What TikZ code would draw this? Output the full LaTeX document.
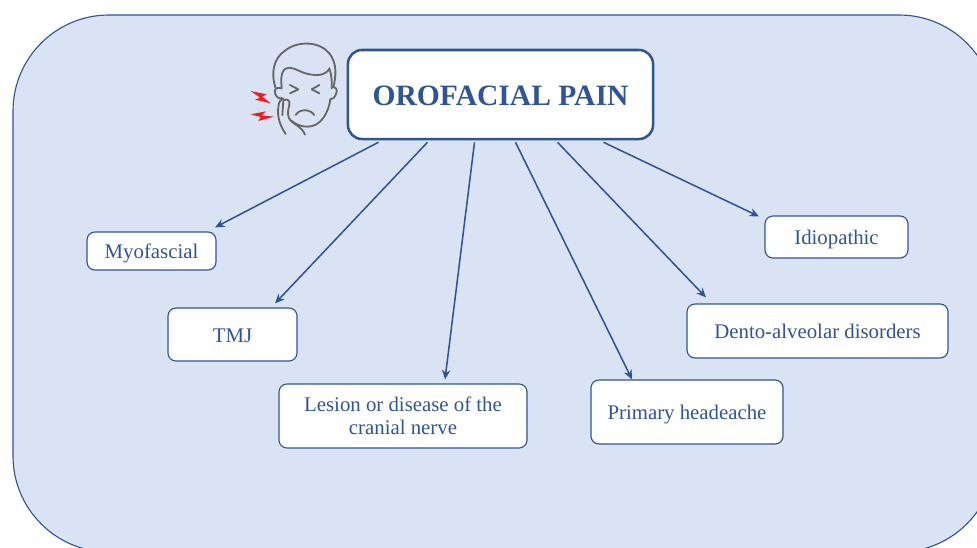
\documentclass[tikz,border=0pt]{standalone}
\usepackage{fontspec}
\setmainfont{Liberation Serif}
\usetikzlibrary{arrows.meta,calc}
\definecolor{opblue}{HTML}{2F5597}
\definecolor{oppale}{HTML}{DAE3F3}
\definecolor{opgray}{HTML}{666666}
\definecolor{opred}{HTML}{EE1C25}
\tikzset{
  op panel/.style={draw=opblue, line width=0.8pt, rounded corners=2.4cm, fill=oppale},
  op main/.style={draw=opblue, line width=1.8pt, rounded corners=3.5mm, fill=white,
    minimum width=76.25mm, minimum height=22.25mm, text=opblue, text height=15.5pt, text depth=0pt,
    font=\fontsize{21}{25}\selectfont\bfseries},
  op node/.style={draw=opblue, line width=0.8pt, rounded corners=2mm, fill=white,
    align=center, text=opblue, inner sep=0pt, font=\fontsize{14.8}{16.6}\selectfont},
  op single/.style={op node, text height=10.7pt, text depth=0pt},
  op arrow/.style={-{Stealth[length=2.4mm,width=2.1mm]}, line width=1.1pt, draw=opblue},
  op face/.style={draw=opgray, line width=1.3pt, line cap=round, line join=round},
  op bolt/.style={fill=opred, draw=none}
}
\begin{document}
\begin{tikzpicture}[x=0.025cm, y=-0.025cm]
  \useasboundingbox (0,0) rectangle (977,547);
  \begin{scope}
    \clip (0,0) rectangle (977,547);
    \draw[op panel] (13,15) rectangle (995,552);
  \end{scope}
  % boxes
  \node[op main] (main) at (500.5,94.5) {OROFACIAL PAIN};
  \node[op single, minimum width=32.25mm, minimum height=9.5mm] (myofascial) at (151.5,251) {Myofascial};
  \node[op single, minimum width=32.25mm, minimum height=13.25mm] (tmj) at (232.5,334.5) {TMJ};
  \node[op node, minimum width=62mm, minimum height=16mm] (lesion) at (403,416) {Lesion or disease of the\\cranial nerve};
  \node[op single, minimum width=48mm, minimum height=16mm] (headache) at (687,412) {Primary headeache};
  \node[op single, minimum width=65.25mm, minimum height=13.5mm] (dento) at (817.5,331) {Dento-alveolar disorders};
  \node[op single, minimum width=35.75mm, minimum height=10.5mm] (idiopathic) at (836.5,237) {Idiopathic};
  % arrows
  \foreach \from/\target/\to in {-122/myofascial/{63.5,-4},-73/tmj/{42.5,-4},-26/lesion/{42,-4},15/headache/{-55,0},57/dento/{-111.5,-6},103/idiopathic/{-77.5,1}} {
    \draw[op arrow] ($(main.south)+(\from,2)$) -- ($(\target.north)+(\to)$);
  }
  % face
  \begin{scope}[shift={(230,30)}, x=0.025cm/3, y=-0.025cm/3]
    \draw[op face] (137,175) .. controls (122,130) and (130,85) .. (165,62) .. controls (205,30) and (270,35) .. (298,70) .. controls (322,100) and (318,140) .. (310,172);
    \draw[op face] (155,172) .. controls (150,130) and (160,113) .. (178,113) .. controls (200,113) and (215,135) .. (262,135) .. controls (285,135) and (298,120) .. (298,115) .. controls (305,135) and (306,155) .. (305,175);
    \draw[op face] (155,175) .. controls (140,170) and (130,178) .. (136,192) .. controls (140,203) and (148,207) .. (157,204);
    \draw[op face] (305,172) .. controls (318,168) and (324,180) .. (318,192) .. controls (314,203) and (308,208) .. (301,208);
    \draw[op face] (301,208) .. controls (295,250) and (272,290) .. (232,290) .. controls (214,290) and (198,284) .. (184,272);
    \draw[op face] (180,165) -- (205,178) -- (180,190);
    \draw[op face] (268,165) -- (245,178) -- (268,190);
    \draw[op face] (197,255) .. controls (208,236) and (240,236) .. (253,255);
    \draw[op face] (147,220) .. controls (140,250) and (145,280) .. (167,312);
    \draw[op face] (147,220) .. controls (150,208) and (160,204) .. (164,210) .. controls (170,205) and (182,212) .. (178,225) .. controls (172,245) and (172,262) .. (182,272) .. controls (195,285) and (215,290) .. (225,314);
    \draw[op face] (160,212) -- (157,255);
    \fill[op bolt] (62,183) -- (110,193) -- (97,200) -- (122,220) -- (75,209) -- (90,203) -- cycle;
    \fill[op bolt] (62,253) -- (107,244) -- (96,256) -- (132,260) -- (85,273) -- (92,261) -- cycle;
  \end{scope}
\end{tikzpicture}
\end{document}
